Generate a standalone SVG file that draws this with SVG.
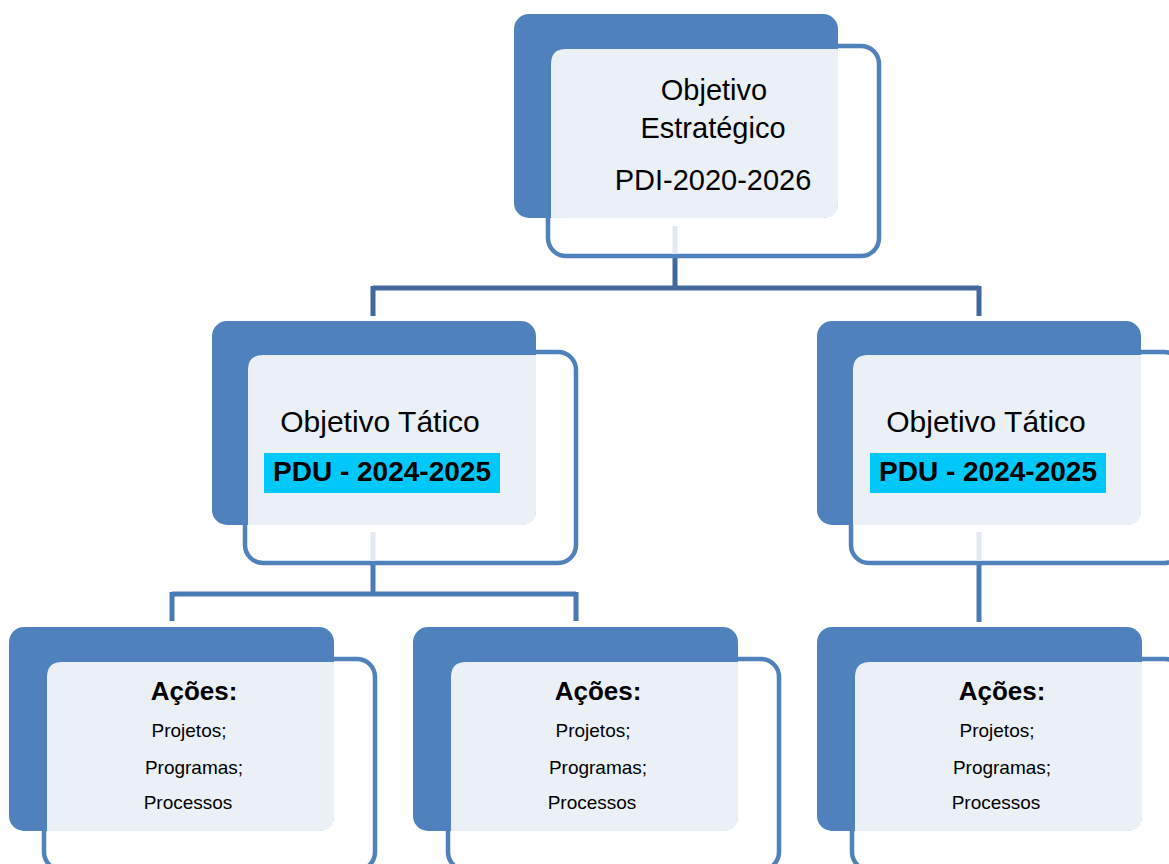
<svg xmlns="http://www.w3.org/2000/svg" width="1169" height="864" viewBox="0 0 1169 864">
<defs>
<style>
.dark{fill:#4F81BD;}
.outl{fill:#FFFFFF;stroke:#4F81BD;stroke-width:4.5;}
.light{fill:#EBF0F7;}
.faint{stroke:#E2E9F2;stroke-width:5;}
.t{font-family:"Liberation Sans",Arial,sans-serif;fill:#000;text-anchor:middle;}
.big{font-size:29px;}
.mid{font-size:30px;}
.pdu{font-size:28px;font-weight:bold;}
.bold{font-weight:bold;}
.small{font-size:19px;}
.hl{fill:#00C8F8;}
.c1{stroke:#41699B;stroke-width:5;fill:none;}
.c2{stroke:#4A7AB5;stroke-width:5;fill:none;}
</style>
</defs>
<rect width="1169" height="864" fill="#FFFFFF"/>
<g id="connectors">
<path class="c1" d="M675 256 V288 M373 288 H979 M373 286 V316 M979 286 V316"/>
<path class="c2" d="M373 565 V594 M172 594 H576 M172 592 V621 M576 592 V621"/>
<path class="c2" d="M979 565 V622"/>
</g>
<g id="node-estrategico">
<rect class="outl" x="548" y="46" width="331" height="210" rx="18"/>
<rect class="dark" x="514" y="14" width="324" height="204" rx="15"/>
<path class="light" d="M566 49 H838 V203 Q838 218 823 218 H551 V64 Q551 49 566 49 Z"/>
<line class="faint" x1="675" y1="226" x2="675" y2="254"/>
<text class="t big" x="714" y="100">Objetivo</text>
<text class="t big" x="713" y="138">Estratégico</text>
<text class="t big" x="713" y="190">PDI-2020-2026</text>
</g>
<g id="node-tatico-1">
<rect class="outl" x="245" y="352" width="331" height="211" rx="18"/>
<rect class="dark" x="212" y="321" width="324" height="204" rx="15"/>
<path class="light" d="M263 355 H536 V510 Q536 525 521 525 H248 V370 Q248 355 263 355 Z"/>
<line class="faint" x1="373" y1="532" x2="373" y2="561"/>
<text class="t mid" x="380" y="432">Objetivo Tático</text>
<rect class="hl" x="264" y="453" width="236" height="40"/>
<text class="t pdu" x="382" y="481">PDU - 2024-2025</text>
</g>
<g id="node-tatico-2">
<rect class="outl" x="851" y="352" width="331" height="211" rx="18"/>
<rect class="dark" x="817" y="321" width="324" height="204" rx="15"/>
<path class="light" d="M868 355 H1141 V510 Q1141 525 1126 525 H853 V370 Q853 355 868 355 Z"/>
<line class="faint" x1="979" y1="532" x2="979" y2="561"/>
<text class="t mid" x="986" y="432">Objetivo Tático</text>
<rect class="hl" x="870" y="453" width="236" height="40"/>
<text class="t pdu" x="988" y="481">PDU - 2024-2025</text>
</g>
<g id="node-acoes-1">
<rect class="outl" x="44" y="659" width="331" height="211" rx="18"/>
<rect class="dark" x="9" y="627" width="325" height="204" rx="15"/>
<path class="light" d="M62 662 H334 V816 Q334 831 319 831 H47 V677 Q47 662 62 662 Z"/>
<text class="t bold" font-size="26" x="194" y="700">Ações:</text>
<text class="t small" x="189" y="737">Projetos;</text>
<text class="t small" x="194" y="774">Programas;</text>
<text class="t small" x="188" y="809">Processos</text>
</g>
<g id="node-acoes-2">
<rect class="outl" x="448" y="659" width="331" height="211" rx="18"/>
<rect class="dark" x="413" y="627" width="325" height="204" rx="15"/>
<path class="light" d="M466 662 H738 V816 Q738 831 723 831 H451 V677 Q451 662 466 662 Z"/>
<text class="t bold" font-size="26" x="598" y="700">Ações:</text>
<text class="t small" x="593" y="737">Projetos;</text>
<text class="t small" x="598" y="774">Programas;</text>
<text class="t small" x="592" y="809">Processos</text>
</g>
<g id="node-acoes-3">
<rect class="outl" x="852" y="659" width="331" height="211" rx="18"/>
<rect class="dark" x="817" y="627" width="325" height="204" rx="15"/>
<path class="light" d="M870 662 H1142 V816 Q1142 831 1127 831 H855 V677 Q855 662 870 662 Z"/>
<text class="t bold" font-size="26" x="1002" y="700">Ações:</text>
<text class="t small" x="997" y="737">Projetos;</text>
<text class="t small" x="1002" y="774">Programas;</text>
<text class="t small" x="996" y="809">Processos</text>
</g>
</svg>
